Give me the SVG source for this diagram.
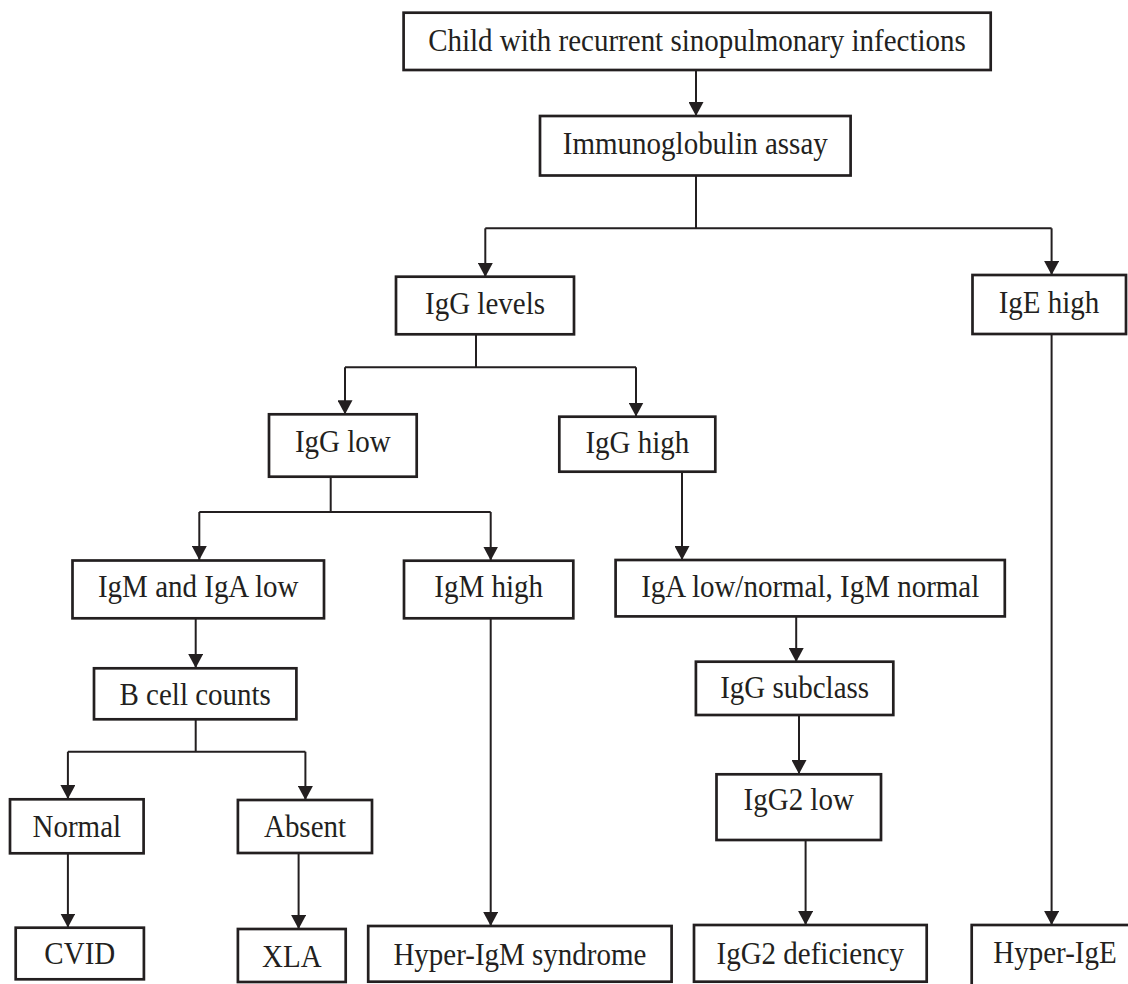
<svg xmlns="http://www.w3.org/2000/svg" width="1128" height="984" viewBox="0 0 1128 984">
<style>
  .box { fill: #ffffff; stroke: #231f20; stroke-width: 2.7; }
  .lbl { font-family: 'Liberation Serif', 'DejaVu Serif', serif; font-size: 29px; fill: #231f20; text-anchor: middle; }
  .con { fill: none; stroke: #231f20; stroke-width: 2; }
  .arr { marker-end: url(#ah); }
</style>
<defs>
  <marker id="ah" markerWidth="14" markerHeight="15" refX="14" refY="7.5" orient="auto" markerUnits="userSpaceOnUse" viewBox="0 0 14 15">
    <path d="M0,0 L14,7.5 L0,15 z" fill="#231f20"/>
  </marker>
</defs>
<rect width="1128" height="984" fill="#ffffff"/>

<g id="connectors">
  <path class="con arr" d="M696,70 V116"/>
  <path class="con" d="M696,176 V228.3 M485.3,228.3 H1051.6"/>
  <path class="con arr" d="M485.3,228.3 V277"/>
  <path class="con arr" d="M1051.6,228.3 V275"/>
  <path class="con" d="M476,334 V367.3 M345,367.3 H636"/>
  <path class="con arr" d="M345,367.3 V414.3"/>
  <path class="con arr" d="M636,367.3 V416.5"/>
  <path class="con" d="M330.7,476.7 V512 M199.3,512 H490.7"/>
  <path class="con arr" d="M199.3,512 V560"/>
  <path class="con arr" d="M490.7,512 V560.5"/>
  <path class="con arr" d="M682,471.7 V560"/>
  <path class="con arr" d="M1051.6,334 V925"/>
  <path class="con arr" d="M195.7,618 V668"/>
  <path class="con" d="M195.7,719.5 V751.7 M67.9,751.7 H305.4"/>
  <path class="con arr" d="M67.9,751.7 V799"/>
  <path class="con arr" d="M305.4,751.7 V800"/>
  <path class="con arr" d="M67.9,853.3 V927.5"/>
  <path class="con arr" d="M298.6,853 V929"/>
  <path class="con arr" d="M490.7,618 V926"/>
  <path class="con arr" d="M796.2,616.5 V662"/>
  <path class="con arr" d="M799,715 V774"/>
  <path class="con arr" d="M805.6,840 V925"/>
</g>

<g id="n-child"><rect class="box" x="403.6" y="12.7" width="587.1" height="57.3"/><text class="lbl" transform="translate(697,50.5) scale(1,1.07)">Child with recurrent sinopulmonary infections</text></g>
<g id="n-assay"><rect class="box" x="540" y="116" width="310.6" height="59.5"/><text class="lbl" transform="translate(695.3,154) scale(1,1.07)">Immunoglobulin assay</text></g>
<g id="n-igg-levels"><rect class="box" x="396" y="276.7" width="178" height="57.6"/><text class="lbl" transform="translate(485,314) scale(1,1.07)">IgG levels</text></g>
<g id="n-ige-high"><rect class="box" x="972.5" y="275" width="153.5" height="59"/><text class="lbl" transform="translate(1049,313) scale(1,1.07)">IgE high</text></g>
<g id="n-igg-low"><rect class="box" x="269" y="414.3" width="147.7" height="62.4"/><text class="lbl" transform="translate(342.8,451.7) scale(1,1.07)">IgG low</text></g>
<g id="n-igg-high"><rect class="box" x="559.3" y="416.7" width="156" height="55"/><text class="lbl" transform="translate(637.3,453.3) scale(1,1.07)">IgG high</text></g>
<g id="n-igm-iga-low"><rect class="box" x="72.5" y="560.5" width="251.5" height="57.8"/><text class="lbl" transform="translate(198.2,597.3) scale(1,1.07)">IgM and IgA low</text></g>
<g id="n-igm-high"><rect class="box" x="404" y="560.7" width="169.3" height="57.6"/><text class="lbl" transform="translate(488.7,597.3) scale(1,1.07)">IgM high</text></g>
<g id="n-iga-normal"><rect class="box" x="615.6" y="560" width="389.2" height="56.4"/><text class="lbl" transform="translate(810.2,597) scale(1,1.07)">IgA low/normal, IgM normal</text></g>
<g id="n-bcell"><rect class="box" x="94" y="668.3" width="202.4" height="51"/><text class="lbl" transform="translate(195.2,705) scale(1,1.07)">B cell counts</text></g>
<g id="n-igg-subclass"><rect class="box" x="695.9" y="661.7" width="197.4" height="53.3"/><text class="lbl" transform="translate(794.6,698.3) scale(1,1.07)">IgG subclass</text></g>
<g id="n-normal"><rect class="box" x="10" y="799.3" width="133.6" height="54"/><text class="lbl" transform="translate(76.8,836.7) scale(1,1.07)">Normal</text></g>
<g id="n-absent"><rect class="box" x="237.9" y="800" width="134.1" height="53"/><text class="lbl" transform="translate(305,837) scale(1,1.07)">Absent</text></g>
<g id="n-igg2-low"><rect class="box" x="716.5" y="774.3" width="164.5" height="65.7"/><text class="lbl" transform="translate(798.7,810) scale(1,1.07)">IgG2 low</text></g>
<g id="n-cvid"><rect class="box" x="15.7" y="927.7" width="128.2" height="51.6"/><text class="lbl" transform="translate(79.8,964) scale(1,1.07)">CVID</text></g>
<g id="n-xla"><rect class="box" x="237.9" y="929" width="107.8" height="53"/><text class="lbl" transform="translate(291.8,966.5) scale(1,1.07)">XLA</text></g>
<g id="n-hyper-igm"><rect class="box" x="368.2" y="926" width="303.4" height="55.7"/><text class="lbl" transform="translate(519.9,964.5) scale(1,1.07)">Hyper-IgM syndrome</text></g>
<g id="n-igg2-def"><rect class="box" x="694" y="925" width="232.7" height="56.7"/><text class="lbl" transform="translate(810.3,963.5) scale(1,1.07)">IgG2 deficiency</text></g>
<g id="n-hyper-ige"><rect class="box" x="971.7" y="925" width="170" height="70"/><text class="lbl" transform="translate(1055,963.3) scale(1,1.07)">Hyper-IgE</text></g>
</svg>
